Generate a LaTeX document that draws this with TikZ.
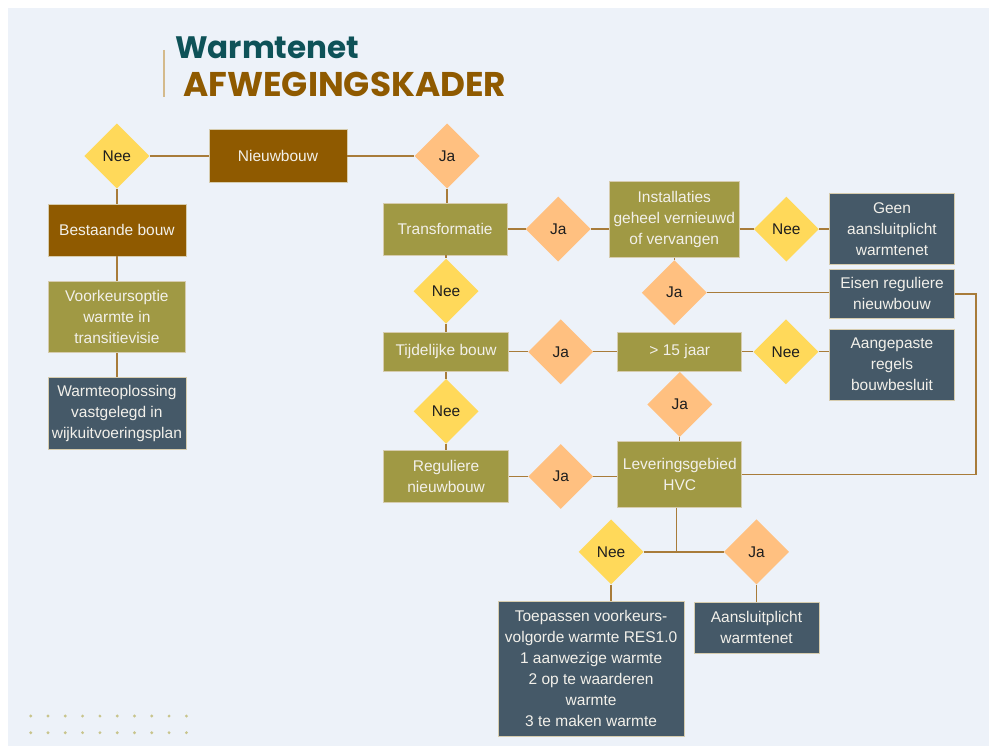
\documentclass[tikz,border=0pt]{standalone}
\usepackage{fontspec}
\setmainfont{Liberation Sans}
\newfontfamily\titlefont{Poppins}
\usetikzlibrary{shapes.geometric,positioning}
\definecolor{panelbg}{HTML}{EDF2F9}
\definecolor{brownfill}{HTML}{8F5A00}
\definecolor{olivefill}{HTML}{A09944}
\definecolor{slatefill}{HTML}{455968}
\definecolor{neefill}{HTML}{FFD95A}
\definecolor{jafill}{HTML}{FFC080}
\definecolor{boxrim}{HTML}{D6CCAE}
\definecolor{boxtext}{HTML}{F2F0EA}
\definecolor{choicetext}{HTML}{1E1E1E}
\definecolor{linkcol}{HTML}{A87C3A}
\definecolor{titleteal}{HTML}{0E5258}
\definecolor{titlebar}{HTML}{D4BA8C}
\definecolor{dotcol}{HTML}{C8C48C}
\tikzstyle{flowbox} = [rectangle,draw=boxrim,line width=0.8pt,inner sep=2pt,align=center,text=boxtext,font=\fontsize{15.5}{21}\selectfont]
\tikzstyle{brownbox} = [flowbox,fill=brownfill]
\tikzstyle{olivebox} = [flowbox,fill=olivefill]
\tikzstyle{slatebox} = [flowbox,fill=slatefill]
\tikzstyle{choice} = [diamond,inner sep=0,minimum width=65pt,minimum height=65pt,text=choicetext,font=\fontsize{15.5}{18}\selectfont]
\tikzstyle{janode} = [choice,fill=jafill]
\tikzstyle{neenode} = [choice,fill=neefill]
\tikzstyle{link} = [-,draw=linkcol,line width=1.3pt]
\def \gap {15pt}

\begin{document}
\begin{tikzpicture}[auto, node distance=\gap]
      \useasboundingbox (0,0) rectangle (989pt,-746pt);
      \fill[panelbg] (8pt,-8pt) rectangle (989pt,-746pt);
      \foreach \i in {0,...,9}
        \foreach \j in {0,1}
          \fill[dotcol] ({30.7pt+17.3pt*\i},{-716pt-16.7pt*\j}) circle (1.6pt);
      \draw[titlebar,line width=1.3pt] (164pt,-50pt) -- (164pt,-97pt);
      \node[anchor=base west,inner sep=0,text=titleteal,font=\titlefont\bfseries\fontsize{31}{31}\selectfont] (titletop) at (175pt,-59pt) {Warmtenet};
      \node[anchor=base west,inner sep=0,text=brownfill,font=\titlefont\bfseries\fontsize{34.3}{35}\selectfont] (titlebottom) at (183pt,-97pt) {AFWEGINGSKADER};
      \node[brownbox,minimum width=138pt,minimum height=53pt] (nieuwbouw) at (278pt,-156pt) {Nieuwbouw};
      \node[neenode,left=59pt of nieuwbouw] (nee1) {Nee};
      \node[brownbox,minimum width=138pt,minimum height=52pt,below=of nee1] (bestaande) {Bestaande bouw};
      \node[olivebox,minimum width=137pt,minimum height=71pt,below=25pt of bestaande] (voorkeur) {Voorkeursoptie\\warmte in\\transitievisie};
      \node[slatebox,minimum width=138pt,minimum height=72pt,below=24pt of voorkeur] (vastgelegd) {Warmteoplossing\\vastgelegd in\\wijkuitvoeringsplan};
      \node[janode,right=67pt of nieuwbouw] (ja1) {Ja};
      \node[olivebox,minimum width=124pt,minimum height=52pt,below=14pt of ja1,xshift=-2pt] (transformatie) {Transformatie};
      \node[janode,right=18pt of transformatie] (ja2) {Ja};
      \node[olivebox,minimum width=130pt,minimum height=76pt,right=18pt of ja2,yshift=9.5pt] (installaties) {Installaties\\geheel vernieuwd\\of vervangen};
      \node[neenode,right=14pt of installaties,yshift=-9.5pt] (nee2) {Nee};
      \node[slatebox,minimum width=125pt,minimum height=71pt,right=10pt of nee2] (geen) {Geen\\aansluitplicht\\warmtenet};
      \node[slatebox,minimum width=125pt,minimum height=49pt,below=4pt of geen] (eisen) {Eisen reguliere\\nieuwbouw};
      \node[janode,below=2pt of installaties] (ja3) {Ja};
      \node[neenode,below=3pt of transformatie,xshift=1pt] (nee3) {Nee};
      \node[olivebox,minimum width=125pt,minimum height=39pt,below=8pt of nee3] (tijdelijk) {Tijdelijke bouw};
      \node[janode,right=19pt of tijdelijk] (ja4) {Ja};
      \node[olivebox,minimum width=124pt,minimum height=39pt,right=24pt of ja4] (jaar) {> 15 jaar};
      \node[neenode,right=11pt of jaar] (nee4) {Nee};
      \node[slatebox,minimum width=125pt,minimum height=71pt,below=10pt of eisen] (aangepast) {Aangepaste\\regels\\bouwbesluit};
      \node[janode,below=0pt of jaar] (ja5) {Ja};
      \node[olivebox,minimum width=124pt,minimum height=66pt,below=4pt of ja5] (levering) {Leveringsgebied\\HVC};
      \node[neenode,below=7pt of tijdelijk] (nee5) {Nee};
      \node[olivebox,minimum width=125pt,minimum height=52pt,below=6pt of nee5] (regulier) {Reguliere\\nieuwbouw};
      \node[janode,right=19pt of regulier] (ja6) {Ja};
      \coordinate[below=44pt of levering,xshift=-3pt] (split);
      \node[neenode,left=33pt of split] (nee6) {Nee};
      \node[janode,right=47pt of split] (ja7) {Ja};
      \node[slatebox,minimum width=186pt,minimum height=135pt,below=16pt of nee6,xshift=-20pt] (toepassen) {Toepassen voorkeurs-\\volgorde warmte RES1.0\\1 aanwezige warmte\\2 op te waarderen\\warmte\\3 te maken warmte};
      \node[slatebox,minimum width=125pt,minimum height=51pt,below=17pt of ja7] (aansluit) {Aansluitplicht\\warmtenet};
      \draw[link] (nee1.east) -- (nieuwbouw.west);
      \draw[link] (nee1.south) -- (nee1.south |- bestaande.north);
      \draw[link] (bestaande.south) -- (bestaande.south |- voorkeur.north);
      \draw[link] (voorkeur.south) -- (voorkeur.south |- vastgelegd.north);
      \draw[link] (nieuwbouw.east) -- (ja1.west);
      \draw[link] (ja1.south) -- (ja1.south |- transformatie.north);
      \draw[link] (transformatie.east) -- (ja2.west);
      \draw[link] (ja2.east) -- (ja2.east -| installaties.west);
      \draw[link] (nee2.west -| installaties.east) -- (nee2.west);
      \draw[link] (nee2.east) -- (geen.west);
      \draw[link] (installaties.south) -- (installaties.south |- ja3.north);
      \draw[link] (ja3.east) -- (ja3.east -| eisen.west);
      \draw[link] (eisen.east) -- ++(21pt,0) |- (levering.east);
      \draw[link] (transformatie.south -| nee3.north) -- (nee3.north);
      \draw[link] (nee3.south) -- (nee3.south |- tijdelijk.north);
      \draw[link] (tijdelijk.east) -- (ja4.west);
      \draw[link] (ja4.east) -- (jaar.west);
      \draw[link] (jaar.east) -- (nee4.west);
      \draw[link] (nee4.east) -- (nee4.east -| aangepast.west);
      \draw[link] (jaar.south) -- (ja5.north);
      \draw[link] (ja5.south) -- (ja5.south |- levering.north);
      \draw[link] (tijdelijk.south) -- (tijdelijk.south |- nee5.north);
      \draw[link] (nee5.south) -- (nee5.south |- regulier.north);
      \draw[link] (regulier.east) -- (ja6.west);
      \draw[link] (ja6.east) -- (ja6.east -| levering.west);
      \draw[link] (levering.south -| split) -- (split);
      \draw[link] (nee6.east) -- (ja7.west);
      \draw[link] (nee6.south) -- (nee6.south |- toepassen.north);
      \draw[link] (ja7.south) -- (ja7.south |- aansluit.north);
    \end{tikzpicture}
\end{document}
